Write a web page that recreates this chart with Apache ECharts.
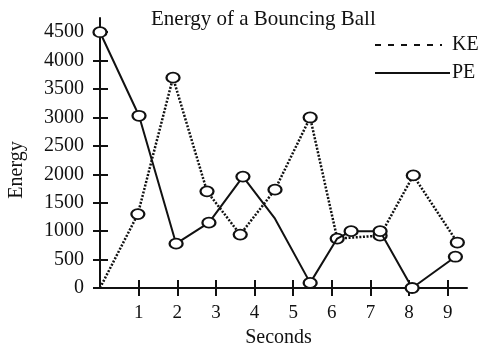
<!DOCTYPE html>
<html>
<head>
<meta charset="utf-8">
<script src="https://cdn.jsdelivr.net/npm/echarts@6/dist/echarts.min.js"></script>
<style>
  html, body { margin: 0; padding: 0; background: #fff; }
  #chart { width: 482px; height: 344px; }
</style>
</head>
<body>
<div id="chart"></div>
<script>
// Kinetic energy samples (time in seconds, energy)
const keSeconds = [0, 0.98, 1.89, 2.77, 3.63, 4.53, 5.44, 6.14, 7.25, 8.11, 9.25];
const keValues  = [0, 1300, 3700, 1700, 940, 1730, 3000, 870, 920, 1980, 800];

// Potential energy samples
const peSeconds = [0, 1.01, 1.97, 2.82, 3.70, 4.53, 5.44, 6.14, 6.50, 7.25, 8.08, 9.20];
const peValues  = [4500, 3030, 780, 1150, 1960, 1220, 90, 870, 1000, 1000, 0, 550];

// Axis ticks
const secondTicks = [1, 2, 3, 4, 5, 6, 7, 8, 9];
const energyTicks = [0, 500, 1000, 1500, 2000, 2500, 3000, 3500, 4000, 4500];

const FONT = '"Liberation Serif", "DejaVu Serif", serif';
const INK = '#111';

// points drawn as bends only, without a ring
const keBare = new Set([0]);
const peBare = new Set([5, 7]);

function points(xs, ys, bare) {
  return xs.map((x, i) => {
    const item = { value: [x, ys[i]] };
    if (bare.has(i)) item.symbol = 'none';
    return item;
  });
}

// Two identical grids: the first carries the axes with outward ticks,
// the second adds the inward half so each tick crosses its axis.
const gridBox = { left: 100, right: 15, top: 18, bottom: 56, containLabel: false, outerBoundsMode: 'none' };

const xBase = { type: 'value', min: 0, max: 9.5, splitLine: { show: false } };
const yBase = { type: 'value', min: 0, max: 4750, splitLine: { show: false } };
const plain = v => String(v);
const inkLine = { color: INK, width: 2 };

const chart = echarts.init(document.getElementById('chart'), null, { renderer: 'canvas' });

chart.setOption({
  backgroundColor: '#fff',
  animation: false,
  title: {
    text: 'Energy of a Bouncing Ball',
    left: 146, top: 4,
    textStyle: { fontFamily: FONT, fontSize: 21, fontWeight: 'normal', color: INK }
  },
  grid: [Object.assign({}, gridBox), Object.assign({}, gridBox)],
  xAxis: [
    Object.assign({}, xBase, {
      gridIndex: 0,
      name: 'Seconds', nameLocation: 'middle', nameGap: 32,
      nameTextStyle: { fontFamily: FONT, fontSize: 20, color: INK, padding: [0, 10, 0, 0] },
      axisLine: { show: true, onZero: false, lineStyle: inkLine },
      axisTick: { show: true, inside: false, length: 8, customValues: secondTicks, lineStyle: inkLine },
      axisLabel: { customValues: secondTicks, formatter: plain, margin: 16, fontFamily: FONT, fontSize: 19, color: INK }
    }),
    Object.assign({}, xBase, {
      gridIndex: 1,
      axisLine: { show: false },
      axisTick: { show: true, inside: true, length: 8, customValues: secondTicks, lineStyle: inkLine },
      axisLabel: { show: false }
    })
  ],
  yAxis: [
    Object.assign({}, yBase, {
      gridIndex: 0,
      axisLine: { show: true, onZero: false, lineStyle: inkLine },
      axisTick: { show: true, inside: false, length: 7, customValues: energyTicks, lineStyle: inkLine },
      axisLabel: { customValues: energyTicks, formatter: plain, margin: 16, fontFamily: FONT, fontSize: 20, color: INK }
    }),
    Object.assign({}, yBase, {
      gridIndex: 1,
      axisLine: { show: false },
      axisTick: { show: true, inside: true, length: 8, customValues: energyTicks, lineStyle: inkLine },
      axisLabel: { show: false }
    })
  ],
  series: [
    {
      name: 'KE', type: 'line', xAxisIndex: 0, yAxisIndex: 0,
      data: points(keSeconds, keValues, keBare),
      symbol: 'emptyCircle', symbolSize: [13, 10], showAllSymbol: true,
      lineStyle: { color: INK, width: 2.5, type: [2, 1.6] },
      itemStyle: { color: INK, borderColor: INK, borderWidth: 2 },
      z: 3
    },
    {
      name: 'PE', type: 'line', xAxisIndex: 0, yAxisIndex: 0,
      data: points(peSeconds, peValues, peBare),
      symbol: 'emptyCircle', symbolSize: [13, 10], showAllSymbol: true,
      lineStyle: { color: INK, width: 2 },
      itemStyle: { color: INK, borderColor: INK, borderWidth: 2 },
      z: 4
    }
  ],
  graphic: [
    { type: 'text', rotation: Math.PI / 2, x: 17, y: 170,
      style: { text: 'Energy', font: '20px ' + FONT, fill: INK, align: 'center', verticalAlign: 'middle' } },
    { type: 'line', shape: { x1: 375, y1: 45, x2: 442, y2: 45 },
      style: { stroke: INK, lineWidth: 2, lineDash: [6, 7] } },
    { type: 'text', x: 452, y: 45,
      style: { text: 'KE', font: '20px ' + FONT, fill: INK, verticalAlign: 'middle' } },
    { type: 'line', shape: { x1: 375, y1: 73, x2: 450, y2: 73 },
      style: { stroke: INK, lineWidth: 2 } },
    { type: 'text', x: 452, y: 73,
      style: { text: 'PE', font: '20px ' + FONT, fill: INK, verticalAlign: 'middle' } }
  ]
});
</script>
</body>
</html>
